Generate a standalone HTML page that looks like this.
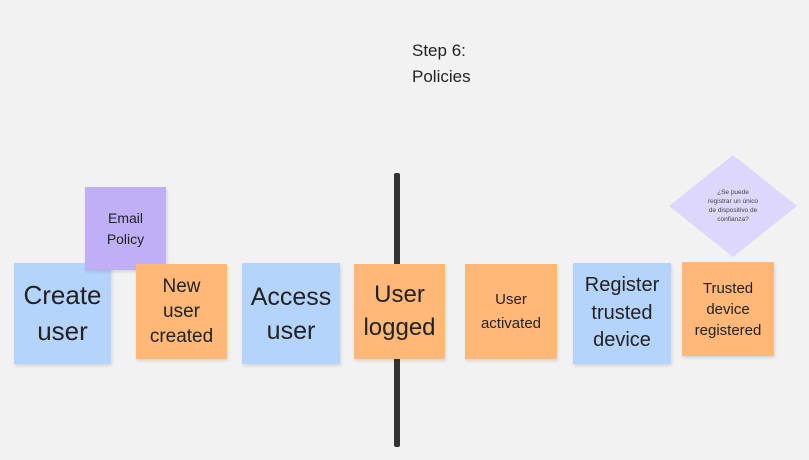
<!DOCTYPE html>
<html><head><meta charset="utf-8"><style>
body{margin:0;width:809px;height:460px;background:#f2f2f2;position:relative;overflow:hidden;font-family:"Liberation Sans","DejaVu Sans",sans-serif;color:#222}
.n{position:absolute;display:flex;align-items:center;justify-content:center;text-align:center;box-shadow:1px 2px 3px rgba(0,0,0,0.12);line-height:1.36}
.b{background:#b5d4fc}
.o{background:#ffb877}
.p{background:#bfb0f6}
</style></head><body>
<div style="position:absolute;left:412px;top:38px;font-size:17px;line-height:26px;color:#222">Step 6:<br>Policies</div>
<div style="position:absolute;left:394px;top:173px;width:6px;height:274px;background:#333;border-radius:2px"></div>
<div class="n b" style="left:14px;top:263px;width:97px;height:101px;font-size:26px">Create<br>user</div>
<div class="n p" style="left:85px;top:187px;width:81px;height:83px;font-size:14px;line-height:1.5">Email<br>Policy</div>
<div class="n o" style="left:136px;top:264px;width:91px;height:95px;font-size:19px;line-height:1.33">New<br>user<br>created</div>
<div class="n b" style="left:242px;top:263px;width:98px;height:101px;font-size:25px">Access<br>user</div>
<div class="n o" style="left:354px;top:264px;width:91px;height:95px;font-size:24px">User<br>logged</div>
<div class="n o" style="left:465px;top:264px;width:92px;height:95px;font-size:15px;line-height:1.55">User<br>activated</div>
<div class="n b" style="left:573px;top:263px;width:98px;height:101px;font-size:20px;line-height:1.38">Register<br>trusted<br>device</div>
<div class="n o" style="left:682px;top:262px;width:92px;height:94px;font-size:15px;line-height:1.4">Trusted<br>device<br>registered</div>
<svg style="position:absolute;left:668px;top:154px" width="130" height="104"><polygon points="65,1 129,52 65,103 1,52" fill="#ddd8fb"/>
<text x="65" y="40" font-size="6.5" text-anchor="middle" fill="#444" font-family="Liberation Sans,sans-serif">¿Se puede</text>
<text x="65" y="49" font-size="6.5" text-anchor="middle" fill="#444" font-family="Liberation Sans,sans-serif">registrar un único</text>
<text x="65" y="58" font-size="6.5" text-anchor="middle" fill="#444" font-family="Liberation Sans,sans-serif">de dispositivo de</text>
<text x="65" y="67" font-size="6.5" text-anchor="middle" fill="#444" font-family="Liberation Sans,sans-serif">confianza?</text>
</svg>
</body></html>
